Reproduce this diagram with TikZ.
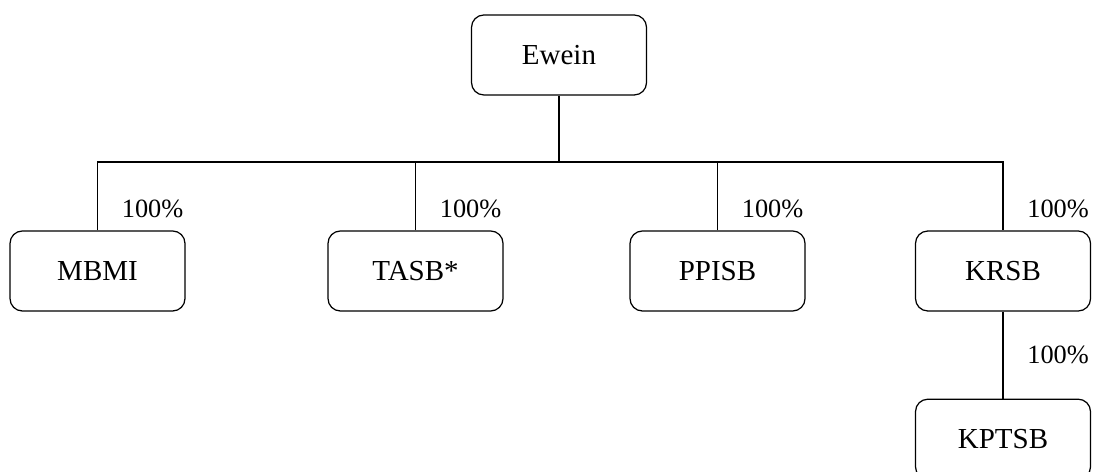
\documentclass[tikz,border=0pt]{standalone}
\usepackage{fontspec}
\setmainfont{Liberation Serif}
\usetikzlibrary{positioning}

\begin{document}
\begin{tikzpicture}[
    x=0.02cm, y=-0.02cm,
    unit/.style={draw, line width=0.7pt, rounded corners=7pt,
        minimum width=3.5cm, minimum height=1.6cm,
        font=\fontsize{16.5}{20}\selectfont},
    share/.style={font=\fontsize{15}{18}\selectfont, inner sep=0pt, anchor=west},
    link/.style={line width=0.7pt},
]
\useasboundingbox (0,0) rectangle (1094,472);

% holding
\node[unit] (ewein) at (559,55) {Ewein};

% subsidiaries
\node[unit] (mbmi)  at (97.5,271)  {MBMI};
\node[unit] (tasb)  at (415.5,271) {TASB*};
\node[unit] (ppisb) at (717.5,271) {PPISB};
\node[unit] (krsb)  at (1003,271)  {KRSB};
\node[unit, below=1.74cm of krsb] (kptsb) {KPTSB};

% ownership lines
\coordinate (bus) at (559,162);
\draw[link] (ewein) -- (bus);
\draw[link] (mbmi.north) |- (bus) -| (krsb.north);
\foreach \n in {tasb,ppisb} \draw[link] (\n.north) -- (\n.north |- bus);
\draw[link] (krsb) -- (kptsb);

% shares
\foreach \n in {mbmi,tasb,ppisb,krsb}
    \node[share] (p\n) at ([xshift=0.48cm, yshift=0.42cm]\n.north) {100\%};
\node[share] (pkptsb) at ([xshift=0.48cm, yshift=0.88cm]kptsb.north) {100\%};

\end{tikzpicture}
\end{document}
